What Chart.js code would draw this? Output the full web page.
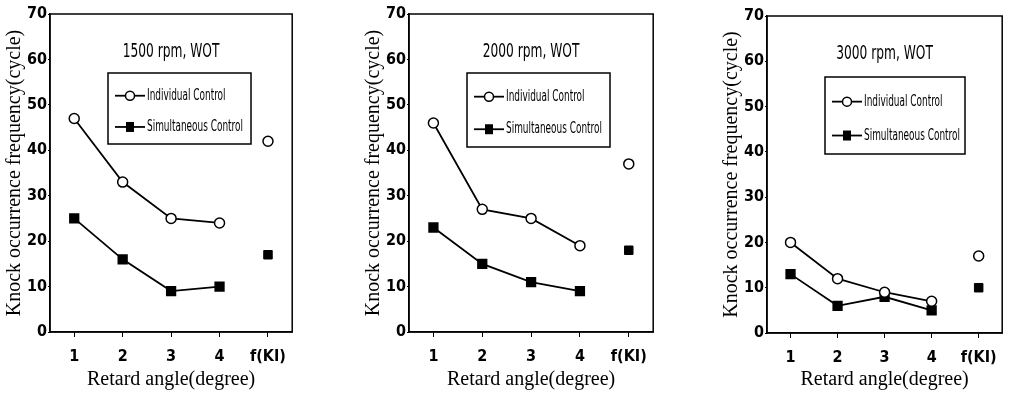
<!DOCTYPE html>
<html>
<head>
<meta charset="utf-8">
<script src="https://cdn.jsdelivr.net/npm/chart.js@4/dist/chart.umd.min.js"></script>
<style>
  html, body { margin: 0; padding: 0; background: #fff; }
  #wrap { position: relative; width: 1010px; height: 395px; overflow: hidden; }
  .panel { position: absolute; top: 0; height: 395px; }
</style>
</head>
<body>
<div id="wrap">
  <div class="panel" style="left:0px;width:300px"><canvas id="c1"></canvas></div>
  <div class="panel" style="left:359px;width:302px"><canvas id="c2"></canvas></div>
  <div class="panel" style="left:717px;width:293px"><canvas id="c3"></canvas></div>
</div>
<script>
// x categories: retard angle 1..4 plus the f(KI) reference point
var angleLabels = ["1", "2", "3", "4", "f(KI)"];
var yTicks = [0, 10, 20, 30, 40, 50, 60, 70];

// knock occurrence frequency (cycle); last value is the f(KI) point
var individual1500   = [47, 33, 25, 24, 42];
var simultaneous1500 = [25, 16, 9, 10, 17];
var individual2000   = [46, 27, 25, 19, 37];
var simultaneous2000 = [23, 15, 11, 9, 18];
var individual3000   = [20, 12, 9, 7, 17];
var simultaneous3000 = [13, 6, 8, 5, 10];

var panelTitles = ["1500 rpm, WOT", "2000 rpm, WOT", "3000 rpm, WOT"];
var seriesNames = ["Individual Control", "Simultaneous Control"];

var narrow = '"Liberation Sans Narrow", "DejaVu Sans Condensed", "Roboto Condensed", "Liberation Sans", Arial, sans-serif';
var serif = '"Liberation Serif", "DejaVu Serif", serif';

function lineOnly(vals) { return vals.slice(0, 4).concat([null]); }
function kiOnly(vals) { return [null, null, null, null, vals[4]]; }

function condensedText(ctx, text, x, y, sx) {
  ctx.save();
  ctx.translate(x, y);
  ctx.scale(sx, 1);
  ctx.fillText(text, 0, 0);
  ctx.restore();
}

// frame, condition label and boxed legend inside the plot area
var decorPlugin = {
  id: "decor",
  afterDraw: function (chart, args, opts) {
    var ctx = chart.ctx, a = chart.chartArea;
    ctx.save();
    ctx.strokeStyle = "#000";
    ctx.lineWidth = 1.5;
    ctx.strokeRect(a.left, a.top, a.right - a.left, a.bottom - a.top);

    ctx.fillStyle = "#000";
    ctx.textBaseline = "middle";
    ctx.textAlign = "center";
    ctx.font = "20px " + narrow;
    condensedText(ctx, opts.title, (a.left + a.right) / 2, a.top + 38, 0.68);

    var bx = a.left + 58, by = a.top + opts.boxTop, bw = opts.boxW, bh = opts.boxH;
    ctx.lineWidth = 1.5;
    ctx.strokeRect(bx, by, bw, bh);

    var rows = [by + bh * 0.32, by + bh * 0.76];
    ctx.textAlign = "left";
    ctx.font = "16px " + narrow;
    for (var i = 0; i < 2; i++) {
      var yy = rows[i];
      ctx.beginPath();
      ctx.moveTo(bx + 7, yy);
      ctx.lineTo(bx + 37, yy);
      ctx.lineWidth = 1.8;
      ctx.stroke();
      if (i === 0) {
        ctx.beginPath();
        ctx.arc(bx + 22, yy, 4.5, 0, Math.PI * 2);
        ctx.fillStyle = "#fff";
        ctx.fill();
        ctx.lineWidth = 1.5;
        ctx.stroke();
      } else {
        ctx.fillStyle = "#000";
        ctx.fillRect(bx + 18, yy - 5, 8, 10);
      }
      ctx.fillStyle = "#000";
      condensedText(ctx, seriesNames[i], bx + 39, yy, 0.62);
    }
    ctx.restore();
  }
};

function makeChart(id, title, ind, sim, top, xHeight, box) {
  var ctx = document.getElementById(id);
  return new Chart(ctx, {
    type: "line",
    data: {
      labels: angleLabels,
      datasets: [
        {
          label: seriesNames[0],
          data: lineOnly(ind),
          borderColor: "#000",
          borderWidth: 1.8,
          pointStyle: "circle",
          pointRadius: 5,
          pointBackgroundColor: "#fff",
          pointBorderColor: "#000",
          pointBorderWidth: 1.5,
          spanGaps: false
        },
        {
          label: seriesNames[1],
          data: lineOnly(sim),
          borderColor: "#000",
          borderWidth: 1.8,
          pointStyle: "rect",
          pointRadius: 6,
          pointBackgroundColor: "#000",
          pointBorderColor: "#000",
          spanGaps: false
        },
        {
          label: "ki-ind",
          data: kiOnly(ind),
          showLine: false,
          pointStyle: "circle",
          pointRadius: 5,
          pointBackgroundColor: "#fff",
          pointBorderColor: "#000",
          pointBorderWidth: 1.5
        },
        {
          label: "ki-sim",
          data: kiOnly(sim),
          showLine: false,
          pointStyle: "rect",
          pointRadius: 6,
          pointBackgroundColor: "#000",
          pointBorderColor: "#000"
        }
      ]
    },
    options: {
      responsive: true,
      maintainAspectRatio: false,
      animation: false,
      layout: { padding: { top: top, right: 0, left: 0, bottom: 0 } },
      plugins: {
        legend: { display: false },
        tooltip: { enabled: false },
        decor: { title: title, boxTop: box[0], boxW: box[1], boxH: box[2] }
      },
      scales: {
        x: {
          type: "category",
          offset: true,
          afterFit: function (s) { s.height = xHeight; },
          grid: { offset: false, drawOnChartArea: false, drawTicks: true, tickLength: 5, color: "#000" },
          border: { display: true, color: "#000", width: 1.5 },
          ticks: { color: "#000", padding: 10, maxRotation: 0, font: { family: narrow, size: 16, weight: "bold" } },
          title: {
            display: true,
            text: "Retard angle(degree)",
            color: "#000",
            padding: { top: 0, bottom: 3 },
            font: { family: serif, size: 20 }
          }
        },
        y: {
          min: 0,
          max: 70,
          afterFit: function (s) { s.width = 50; },
          afterBuildTicks: function (s) { s.ticks = yTicks.map(function (v) { return { value: v }; }); },
          grid: { drawOnChartArea: false, drawTicks: true, tickLength: 2, color: "#000" },
          border: { display: true, color: "#000", width: 1.5 },
          ticks: { color: "#000", padding: 1, font: { family: narrow, size: 16, weight: "bold" } },
          title: {
            display: true,
            text: "Knock occurrence frequency(cycle)",
            color: "#000",
            padding: { top: 3, bottom: 0 },
            font: { family: serif, size: 20 }
          }
        }
      }
    },
    plugins: [decorPlugin]
  });
}

makeChart("c1", panelTitles[0], individual1500, simultaneous1500, 14, 63, [59, 143, 71]);
makeChart("c2", panelTitles[1], individual2000, simultaneous2000, 14, 63, [59, 143, 74]);
makeChart("c3", panelTitles[2], individual3000, simultaneous3000, 16, 62, [61, 140, 77]);
</script>
</body>
</html>
